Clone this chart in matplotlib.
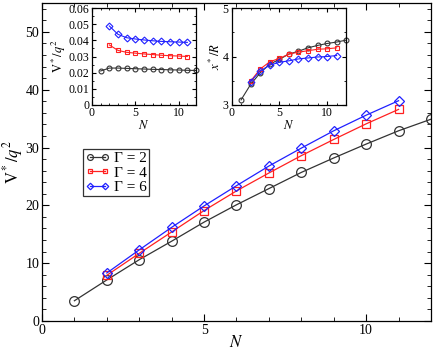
import matplotlib
matplotlib.use("Agg")
import matplotlib.pyplot as plt
from matplotlib.ticker import MultipleLocator, FuncFormatter

plt.rcParams['font.family'] = ['Liberation Serif', 'DejaVu Serif']
plt.rcParams['mathtext.fontset'] = 'stix'

# main panel: V*/q^2 against N
n_g2 = [1, 2, 3, 4, 5, 6, 7, 8, 9, 10, 11, 12]
v_g2 = [3.5, 7.1, 10.6, 13.8, 17.1, 20.1, 22.9, 25.7, 28.2, 30.6, 32.9, 34.9]
n_g4 = [2, 3, 4, 5, 6, 7, 8, 9, 10, 11]
v_g4 = [7.9, 11.7, 15.4, 19.1, 22.5, 25.6, 28.6, 31.4, 34.1, 36.6]
n_g6 = [2, 3, 4, 5, 6, 7, 8, 9, 10, 11]
v_g6 = [8.3, 12.3, 16.2, 19.9, 23.4, 26.8, 29.9, 32.9, 35.6, 38.1]

# inset 1: V*/(N q^2)
vn_g2 = [0.0210, 0.0228, 0.0228, 0.0226, 0.0224, 0.0222, 0.0220, 0.0219, 0.0217, 0.0216, 0.0214, 0.0213]
vn_g4 = [0.0372, 0.0338, 0.0326, 0.0321, 0.0316, 0.0312, 0.0308, 0.0305, 0.0303, 0.0300]
vn_g6 = [0.0490, 0.0438, 0.0417, 0.0409, 0.0403, 0.0398, 0.0394, 0.0392, 0.0390, 0.0388]

# inset 2: x*/R
x_g2 = [3.10, 3.42, 3.66, 3.84, 3.94, 4.05, 4.11, 4.18, 4.23, 4.27, 4.30, 4.34]
x_g4 = [3.49, 3.74, 3.89, 3.96, 4.05, 4.09, 4.12, 4.15, 4.16, 4.18]
x_g6 = [3.48, 3.70, 3.82, 3.88, 3.91, 3.95, 3.97, 3.99, 4.00, 4.02]

labels = ['Γ = 2', 'Γ = 4', 'Γ = 6']
colors = ['#333333', '#ff2020', '#2020ff']
markers = ['o', 's', 'D']
msize_main = [7, 6, 5.5]
msize_inset = [3.5, 3.5, 3.5]


def style_axes(ax, fs, tl):
    ax.tick_params(which='both', direction='in', top=True, right=True, labelsize=fs, pad=2)
    ax.tick_params(which='major', length=tl)
    ax.tick_params(which='minor', length=tl * 0.55)
    for s in ax.spines.values():
        s.set_linewidth(0.9)


def short_fmt(v, pos):
    if abs(v) < 1e-12:
        return '0'
    return ('%.2f' % v)


fig = plt.figure(figsize=(4.36, 3.5), dpi=100)
ax = fig.add_axes([0.0963, 0.0829, 0.8922, 0.9085])

ns = [n_g2, n_g4, n_g6]
for n, v, lab, c, m, ms in zip(ns, [v_g2, v_g4, v_g6], labels, colors, markers, msize_main):
    ax.plot(n, v, color=c, marker=m, ms=ms, mfc='none', mec=c, mew=0.9, lw=0.9, label=lab)

ax.set_xlim(0, 12)
ax.set_ylim(0, 55)
ax.xaxis.set_major_locator(MultipleLocator(5))
ax.xaxis.set_minor_locator(MultipleLocator(1))
ax.yaxis.set_major_locator(MultipleLocator(10))
ax.yaxis.set_minor_locator(MultipleLocator(2))
style_axes(ax, 10, 5)
ax.set_xlabel(r'$N$', fontsize=12, labelpad=-1)
ax.set_ylabel(r'$\mathrm{V}^*/q^2$', fontsize=12, labelpad=0)

leg = ax.legend(loc='upper left', bbox_to_anchor=(0.105, 0.54), fontsize=11, numpoints=2,
                markerscale=0.6, handlelength=1.6, handletextpad=0.3, borderpad=0.15,
                labelspacing=0.05, borderaxespad=0, fancybox=False, edgecolor='#333333',
                framealpha=1)
leg.get_frame().set_linewidth(0.9)

# inset 1
ax1 = fig.add_axes([0.211, 0.7009, 0.2385, 0.2753])
for n, v, c, m, ms in zip([n_g2, n_g4, n_g6], [vn_g2, vn_g4, vn_g6], colors, markers, msize_inset):
    ax1.plot(n, v, color=c, marker=m, ms=ms, mfc='none', mec=c, mew=0.8, lw=0.8, clip_on=False)
ax1.set_xlim(0, 12)
ax1.set_ylim(0, 0.06)
ax1.xaxis.set_major_locator(MultipleLocator(5))
ax1.xaxis.set_minor_locator(MultipleLocator(1))
ax1.yaxis.set_major_locator(MultipleLocator(0.01))
ax1.yaxis.set_minor_locator(MultipleLocator(0.005))
ax1.yaxis.set_major_formatter(FuncFormatter(short_fmt))
style_axes(ax1, 8.5, 3)
ax1.set_xlabel(r'$N$', fontsize=9, labelpad=0)
ax1.set_ylabel(r'$\mathrm{V}^*/q^2$', fontsize=9, labelpad=0)

# inset 2
ax2 = fig.add_axes([0.531, 0.7009, 0.263, 0.2753])
for n, x, c, m, ms in zip([n_g2, n_g4, n_g6], [x_g2, x_g4, x_g6], colors, markers, msize_inset):
    ax2.plot(n, x, color=c, marker=m, ms=ms, mfc='none', mec=c, mew=0.8, lw=0.8, clip_on=False)
ax2.set_xlim(0, 12)
ax2.set_ylim(3, 5)
ax2.xaxis.set_major_locator(MultipleLocator(5))
ax2.xaxis.set_minor_locator(MultipleLocator(1))
ax2.yaxis.set_major_locator(MultipleLocator(1))
ax2.yaxis.set_minor_locator(MultipleLocator(0.5))
style_axes(ax2, 8.5, 3)
ax2.set_xlabel(r'$N$', fontsize=9, labelpad=0)
ax2.set_ylabel(r'$x^*/R$', fontsize=9, labelpad=0)

fig.savefig('out.png', dpi=100)
